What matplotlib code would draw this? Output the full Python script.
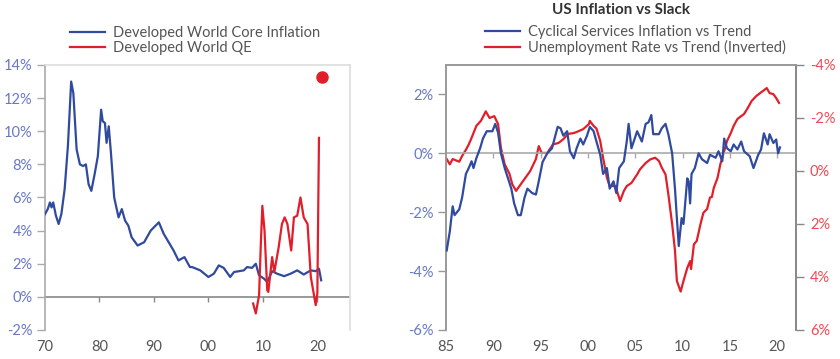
import matplotlib
matplotlib.use("Agg")
import matplotlib.pyplot as plt
import numpy as np

# ---------------- Data ----------------
# Left panel: Developed World Core Inflation (%)
core_years = [1970.0, 1970.5, 1970.9, 1971.2, 1971.5, 1972.0, 1972.5, 1973.0, 1973.6, 1974.2,
              1974.8, 1975.2, 1975.8, 1976.4, 1977.0, 1977.5, 1978.0, 1978.5, 1979.1, 1979.7,
              1980.3, 1980.6, 1981.0, 1981.3, 1981.7, 1982.1, 1982.7, 1983.5, 1984.1, 1984.7,
              1985.3, 1985.9, 1987.0, 1988.2, 1989.4, 1990.0, 1990.9, 1991.8, 1992.7, 1993.6,
              1994.5, 1995.6, 1996.6, 1997.0, 1998.5, 2000.0, 2001.0, 2001.9, 2002.8, 2004.0,
              2004.7, 2005.6, 2006.5, 2007.1, 2008.0, 2008.7, 2009.3, 2010.2, 2010.8, 2011.7,
              2012.6, 2013.9, 2015.1, 2016.3, 2017.5, 2018.8, 2019.7, 2020.3, 2020.7]
core_vals = [5.0, 5.3, 5.7, 5.4, 5.7, 4.9, 4.4, 5.0, 6.5, 9.1,
             13.0, 12.3, 8.9, 8.0, 7.9, 8.0, 6.8, 6.4, 7.4, 8.5,
             11.3, 10.6, 10.5, 9.3, 10.3, 8.7, 6.0, 4.8, 5.3, 4.6,
             4.3, 3.6, 3.1, 3.3, 4.0, 4.2, 4.5, 3.8, 3.3, 2.8,
             2.2, 2.4, 1.8, 1.8, 1.6, 1.2, 1.4, 1.9, 1.75, 1.2,
             1.5, 1.55, 1.6, 1.8, 1.75, 2.0, 1.3, 1.1, 0.9, 1.55,
             1.4, 1.25, 1.4, 1.6, 1.35, 1.6, 1.55, 1.7, 1.0]

# Left panel: Developed World QE (%)
qe_years = [2008.2, 2008.7, 2009.3, 2009.6, 2009.9, 2010.3, 2010.8, 2011.0, 2011.7, 2012.1,
            2012.9, 2013.5, 2014.0, 2014.5, 2015.2, 2015.7, 2016.3, 2016.9, 2017.5, 2018.2,
            2018.8, 2019.7, 2020.0, 2020.3]
qe_vals = [-0.4, -1.0, 0.1, 3.0, 5.5, 4.0, 0.4, 0.3, 2.4, 1.5,
           3.0, 4.4, 4.8, 4.4, 2.8, 4.8, 4.9, 6.0, 4.8, 4.4,
           1.2, -0.5, 0.2, 9.6]
qe_latest_year = [2020.8]
qe_latest_val = [13.3]

# Right panel: Cyclical Services Inflation vs Trend (%)
cyc_years = [1985.07, 1985.4, 1985.7, 1985.9, 1986.4, 1986.7, 1987.1, 1987.4, 1987.7, 1987.9,
             1988.2, 1988.6, 1988.9, 1989.3, 1989.6, 1989.9, 1990.2, 1990.5, 1990.8, 1991.2,
             1991.5, 1991.9, 1992.2, 1992.6, 1992.9, 1993.3, 1993.6, 1994.1, 1994.5, 1994.8,
             1995.2, 1995.7, 1996.2, 1996.8, 1997.1, 1997.4, 1997.8, 1998.1, 1998.5, 1998.8,
             1999.2, 1999.5, 1999.9, 2000.2, 2000.6, 2000.9, 2001.3, 2001.6, 2002.0, 2002.3,
             2002.7, 2003.0, 2003.3, 2003.8, 2004.1, 2004.3, 2004.6, 2005.2, 2005.7, 2006.1,
             2006.4, 2006.7, 2006.9, 2007.5, 2007.8, 2008.2, 2008.5, 2008.9, 2009.2, 2009.4,
             2009.6, 2009.9, 2010.1, 2010.5, 2010.65, 2010.8, 2010.95, 2011.3, 2011.7, 2012.05,
             2012.6, 2012.9, 2013.5, 2013.8, 2014.2, 2014.4, 2014.7, 2015.1, 2015.4, 2015.8,
             2016.2, 2016.5, 2017.1, 2017.5, 2018.0, 2018.3, 2018.6, 2019.0, 2019.2, 2019.6,
             2019.9, 2020.1, 2020.3]
cyc_vals = [-3.3, -2.65, -1.8, -2.1, -1.9, -1.5, -0.7, -0.5, -0.27, -0.5,
            -0.17, 0.17, 0.5, 0.75, 0.75, 0.75, 1.0, 0.7, 0.0, -0.5,
            -0.8, -1.2, -1.7, -2.1, -2.1, -1.5, -1.2, -1.35, -1.4, -0.95,
            -0.3, 0.0, 0.17, 0.9, 0.85, 0.6, 0.75, 0.07, -0.17, 0.17,
            0.5, 0.3, 0.6, 0.9, 0.75, 0.4, -0.05, -0.7, -0.5, -1.2,
            -0.95, -1.35, -0.5, -0.27, 0.4, 1.0, 0.17, 0.75, 0.4, 1.0,
            1.05, 1.3, 0.65, 0.65, 0.85, 1.0, 0.65, 0.0, -1.2, -2.2,
            -3.15, -2.2, -2.4, -0.85, -0.95, -1.7, -0.7, -0.5, 0.0, -0.2,
            -0.33, -0.05, -0.15, 0.07, -0.27, 0.5, 0.17, 0.07, 0.3, 0.13,
            0.4, 0.07, -0.1, -0.5, -0.05, 0.13, 0.68, 0.3, 0.65, 0.35,
            0.47, 0.0, 0.2]

# Right panel: Unemployment Rate vs Trend (inverted axis, %)
unemp_years = [1985.07, 1985.4, 1985.7, 1986.4, 1986.7, 1987.1, 1987.4, 1987.7, 1988.2, 1988.7,
               1989.2, 1989.6, 1990.1, 1990.5, 1990.8, 1991.2, 1991.7, 1992.0, 1992.4, 1992.9,
               1993.4, 1993.9, 1994.5, 1994.8, 1995.1, 1995.7, 1996.3, 1996.9, 1997.4, 1997.9,
               1998.5, 1999.0, 1999.5, 2000.1, 2000.2, 2000.6, 2000.9, 2001.3, 2001.6, 2002.0,
               2002.3, 2002.9, 2003.4, 2003.8, 2004.1, 2004.6, 2005.2, 2005.5, 2006.1, 2006.6,
               2007.1, 2007.5, 2007.8, 2008.2, 2008.5, 2008.9, 2009.2, 2009.4, 2009.8, 2010.1,
               2010.5, 2010.8, 2010.9, 2011.2, 2011.5, 2011.9, 2012.2, 2012.6, 2012.9, 2013.1,
               2013.3, 2013.7, 2014.0, 2014.4, 2014.7, 2015.1, 2015.4, 2015.8, 2016.2, 2016.5,
               2016.9, 2017.3, 2017.8, 2018.2, 2018.5, 2018.9, 2019.2, 2019.6, 2019.9, 2020.2]
unemp_vals = [-0.45, -0.25, -0.45, -0.35, -0.57, -0.8, -1.0, -1.25, -1.7, -1.9,
              -2.25, -2.0, -2.07, -1.77, -0.87, -0.25, 0.1, 0.5, 0.75, 0.5,
              0.25, 0.0, -0.45, -0.94, -0.68, -0.68, -1.0, -1.06, -1.2, -1.4,
              -1.43, -1.5, -1.58, -1.77, -1.89, -1.7, -1.6, -1.13, -0.5, 0.25,
              0.57, 0.57, 1.13, 0.75, 0.57, 0.45, 0.13, -0.06, -0.3, -0.44,
              -0.5, -0.38, -0.13, 0.13, 0.88, 2.0, 3.0, 4.15, 4.55, 4.15,
              3.66, 3.4, 3.7, 2.77, 2.64, 2.0, 1.58, 1.43, 1.0, 0.98,
              0.64, 0.26, -0.26, -0.75, -1.13, -1.43, -1.7, -1.96, -2.07, -2.15,
              -2.38, -2.64, -2.83, -2.94, -3.02, -3.13, -2.94, -2.9, -2.75, -2.57]

left_xticks = [1970, 1980, 1990, 2000, 2010, 2020]
left_xlabels = ["70", "80", "90", "00", "10", "20"]
left_yticks = [-2, 0, 2, 4, 6, 8, 10, 12, 14]
right_xticks = [1985, 1990, 1995, 2000, 2005, 2010, 2015, 2020]
right_xlabels = ["85", "90", "95", "00", "05", "10", "15", "20"]
right_yticks_l = [-6, -4, -2, 0, 2]
right_yticks_r = [-4, -2, 0, 2, 4, 6]

# ---------------- Style ----------------
BLUE = "#2f4a9f"
RED = "#e11f2b"
BLUE_TXT = "#6a78c4"
RED_TXT = "#ef4a52"
GRAY_TXT = "#555555"
plt.rcParams['font.family'] = ['Lato', 'DejaVu Sans']

fig = plt.figure(figsize=(8.4, 3.59), dpi=100)


def zero_line(ax, ticks, color, tick_px):
    """Horizontal zero line with small downward ticks at the x tick positions."""
    ax.axhline(0, color=color, lw=1.2, zorder=2)
    y0, y1 = ax.get_ylim()
    h_px = ax.get_position().height * fig.get_figheight() * fig.dpi
    d = abs(y1 - y0) / h_px * tick_px
    sign = 1 if y1 > y0 else -1
    ax.vlines(ticks, 0, -sign * d, color=color, lw=1.0, zorder=2)


# ---------------- Left panel ----------------
ax1 = fig.add_axes([0.0536, 0.0808, 0.3631, 0.7382])
ax1.plot(core_years, core_vals, color=BLUE, lw=1.6, label="Developed World Core Inflation", zorder=3)
ax1.plot(qe_years, qe_vals, color=RED, lw=1.6, label="Developed World QE", zorder=4)
ax1.plot(qe_latest_year, qe_latest_val, 'o', color=RED, ms=8, zorder=5)
ax1.set_xlim(1970, 2026)
ax1.set_ylim(-2, 14)
ax1.set_yticks(left_yticks)
ax1.set_yticklabels([f"{v}%" for v in left_yticks])
ax1.tick_params(axis='y', colors="#aaaaaa", labelcolor=BLUE_TXT, labelsize=10.5, length=6, width=1, direction='out', pad=3)
ax1.set_xticks(left_xticks)
ax1.set_xticklabels(left_xlabels)
ax1.tick_params(axis='x', length=0, labelcolor=GRAY_TXT, labelsize=10.5, pad=7)
ax1.spines['left'].set_color("#aaaaaa")
ax1.spines['right'].set_color("#dddddd")
ax1.spines['top'].set_color("#dddddd")
ax1.spines['bottom'].set_visible(False)
for s in ax1.spines.values():
    s.set_linewidth(1.2)
zero_line(ax1, left_xticks[1:], "#888888", 5)
leg1 = ax1.legend(loc='lower left', bbox_to_anchor=(0.05, 1.0), frameon=False, fontsize=10.5,
                  handlelength=2.4, handletextpad=0.5, labelspacing=0.05, borderaxespad=0.3)
for t in leg1.get_texts():
    t.set_color(GRAY_TXT)

# ---------------- Right panel ----------------
ax2 = fig.add_axes([0.531, 0.0808, 0.4167, 0.7382])
l1, = ax2.plot(cyc_years, cyc_vals, color=BLUE, lw=1.6, label="Cyclical Services Inflation vs Trend", zorder=4)
ax2.set_xlim(1985, 2022)
ax2.set_ylim(-6, 3)
ax2.set_yticks(right_yticks_l)
ax2.set_yticklabels([f"{v}%" for v in right_yticks_l])
ax2.tick_params(axis='y', colors="#999999", labelcolor=BLUE_TXT, labelsize=10.5, length=6, width=1, pad=3)
ax2.set_xticks(right_xticks)
ax2.set_xticklabels(right_xlabels)
ax2.tick_params(axis='x', length=0, labelcolor=GRAY_TXT, labelsize=10.5, pad=7)
zero_line(ax2, right_xticks[1:], "#aaaaaa", 5)

ax3 = ax2.twinx()
l2, = ax3.plot(unemp_years, unemp_vals, color=RED, lw=1.6, label="Unemployment Rate vs Trend (Inverted)", zorder=3)
ax3.set_ylim(6, -4)
ax3.set_yticks(right_yticks_r)
ax3.set_yticklabels([f"{v}%" for v in right_yticks_r])
ax3.tick_params(axis='y', colors="#888888", labelcolor=RED_TXT, labelsize=10.5, length=6, width=1, pad=4)
ax2.set_zorder(ax3.get_zorder() + 1)
ax2.patch.set_visible(False)
for a in (ax2, ax3):
    a.spines['left'].set_color("#999999")
    a.spines['right'].set_color("#888888")
    a.spines['top'].set_color("#999999")
    a.spines['bottom'].set_visible(False)
    for s in a.spines.values():
        s.set_linewidth(1.2)

leg2 = ax2.legend(handles=[l1, l2], loc='lower left', bbox_to_anchor=(0.083, 1.0), frameon=False, fontsize=10.5,
                  handlelength=2.4, handletextpad=0.5, labelspacing=0.05, borderaxespad=0.3)
for t in leg2.get_texts():
    t.set_color(GRAY_TXT)
ax2.set_title("US Inflation vs Slack", fontsize=11, fontweight='bold', color="#333333", pad=37)

fig.savefig("out.png", dpi=100)
